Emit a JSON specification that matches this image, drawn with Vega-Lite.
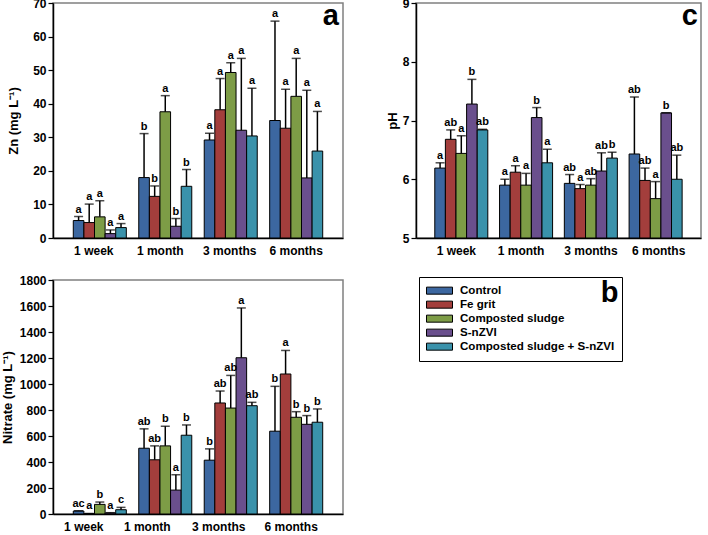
{
  "$schema": "https://vega.github.io/schema/vega-lite/v6.json",
  "padding": {"left": 0, "top": -4, "right": 0, "bottom": 0},
  "bounds": "flush",
  "columns": 2,
  "spacing": {"row": 42, "column": 73},
  "config": {
    "font": "Liberation Sans",
    "view": {"stroke": "#808080", "strokeWidth": 1.5},
    "axis": {"grid": false, "labelFont": "Liberation Sans", "labelFontWeight": "bold", "labelFontSize": 12, "labelColor": "black", "titleFont": "Liberation Sans", "titleFontWeight": "bold", "titleFontSize": 13, "titleColor": "black", "domainColor": "black", "domainWidth": 1.5, "tickColor": "black", "tickWidth": 1.2, "labelOverlap": false},
    "axisY": {"tickSize": 5, "labelPadding": 2, "format": "d"},
    "axisX": {"ticks": false, "labelAngle": 0, "labelPadding": 7, "title": null},
    "title": {"font": "Liberation Sans", "fontSize": 29, "fontWeight": "bold", "color": "black", "anchor": "end", "offset": 0}
  },
  "resolve": {"legend": {"color": "independent"}},
  "datasets": {
    "zn": [
      {"time": "1 week", "trt": "Control", "v": 5.2, "e": 6.4, "l": "a"},
      {"time": "1 week", "trt": "Fe grit", "v": 4.6, "e": 10.1, "l": "a"},
      {"time": "1 week", "trt": "Composted sludge", "v": 6.3, "e": 11.1, "l": "a"},
      {"time": "1 week", "trt": "S-nZVI", "v": 1.3, "e": 2.4, "l": "a"},
      {"time": "1 week", "trt": "Composted sludge + S-nZVI", "v": 3.1, "e": 4.3, "l": "a"},
      {"time": "1 month", "trt": "Control", "v": 18.0, "e": 31.1, "l": "b"},
      {"time": "1 month", "trt": "Fe grit", "v": 12.4, "e": 15.5, "l": "b"},
      {"time": "1 month", "trt": "Composted sludge", "v": 37.6, "e": 42.4, "l": "a"},
      {"time": "1 month", "trt": "S-nZVI", "v": 3.5, "e": 5.8, "l": "b"},
      {"time": "1 month", "trt": "Composted sludge + S-nZVI", "v": 15.4, "e": 20.4, "l": "b"},
      {"time": "3 months", "trt": "Control", "v": 29.2, "e": 31.2, "l": "a"},
      {"time": "3 months", "trt": "Fe grit", "v": 38.2, "e": 47.5, "l": "a"},
      {"time": "3 months", "trt": "Composted sludge", "v": 49.3, "e": 52.2, "l": "a"},
      {"time": "3 months", "trt": "S-nZVI", "v": 32.1, "e": 53.5, "l": "a"},
      {"time": "3 months", "trt": "Composted sludge + S-nZVI", "v": 30.4, "e": 44.6, "l": "a"},
      {"time": "6 months", "trt": "Control", "v": 35.0, "e": 64.6, "l": "a"},
      {"time": "6 months", "trt": "Fe grit", "v": 32.7, "e": 44.3, "l": "a"},
      {"time": "6 months", "trt": "Composted sludge", "v": 42.2, "e": 53.5, "l": "a"},
      {"time": "6 months", "trt": "S-nZVI", "v": 17.9, "e": 44.0, "l": "a"},
      {"time": "6 months", "trt": "Composted sludge + S-nZVI", "v": 25.9, "e": 37.7, "l": "a"}
    ],
    "ph": [
      {"time": "1 week", "trt": "Control", "v": 6.19, "e": 6.28, "l": "a"},
      {"time": "1 week", "trt": "Fe grit", "v": 6.68, "e": 6.84, "l": "ab"},
      {"time": "1 week", "trt": "Composted sludge", "v": 6.44, "e": 6.74, "l": "a"},
      {"time": "1 week", "trt": "S-nZVI", "v": 7.28, "e": 7.70, "l": "b"},
      {"time": "1 week", "trt": "Composted sludge + S-nZVI", "v": 6.84, "e": 6.85, "l": "ab"},
      {"time": "1 month", "trt": "Control", "v": 5.90, "e": 6.00, "l": "a"},
      {"time": "1 month", "trt": "Fe grit", "v": 6.12, "e": 6.23, "l": "a"},
      {"time": "1 month", "trt": "Composted sludge", "v": 5.90, "e": 6.10, "l": "a"},
      {"time": "1 month", "trt": "S-nZVI", "v": 7.05, "e": 7.22, "l": "b"},
      {"time": "1 month", "trt": "Composted sludge + S-nZVI", "v": 6.28, "e": 6.51, "l": "a"},
      {"time": "3 months", "trt": "Control", "v": 5.93, "e": 6.08, "l": "ab"},
      {"time": "3 months", "trt": "Fe grit", "v": 5.84, "e": 5.91, "l": "a"},
      {"time": "3 months", "trt": "Composted sludge", "v": 5.90, "e": 6.01, "l": "ab"},
      {"time": "3 months", "trt": "S-nZVI", "v": 6.14, "e": 6.45, "l": "ab"},
      {"time": "3 months", "trt": "Composted sludge + S-nZVI", "v": 6.36, "e": 6.46, "l": "b"},
      {"time": "6 months", "trt": "Control", "v": 6.43, "e": 7.40, "l": "ab"},
      {"time": "6 months", "trt": "Fe grit", "v": 5.98, "e": 6.19, "l": "ab"},
      {"time": "6 months", "trt": "Composted sludge", "v": 5.67, "e": 5.96, "l": "a"},
      {"time": "6 months", "trt": "S-nZVI", "v": 7.13, "e": 7.13, "l": "b"},
      {"time": "6 months", "trt": "Composted sludge + S-nZVI", "v": 6.00, "e": 6.41, "l": "ab"}
    ],
    "no3": [
      {"time": "1 week", "trt": "Control", "v": 23, "e": 25, "l": "ac"},
      {"time": "1 week", "trt": "Fe grit", "v": 2, "e": 4, "l": "a"},
      {"time": "1 week", "trt": "Composted sludge", "v": 74, "e": 92, "l": "b"},
      {"time": "1 week", "trt": "S-nZVI", "v": 8, "e": 10, "l": "a"},
      {"time": "1 week", "trt": "Composted sludge + S-nZVI", "v": 33, "e": 51, "l": "c"},
      {"time": "1 month", "trt": "Control", "v": 506, "e": 655, "l": "ab"},
      {"time": "1 month", "trt": "Fe grit", "v": 417, "e": 524, "l": "ab"},
      {"time": "1 month", "trt": "Composted sludge", "v": 524, "e": 675, "l": "b"},
      {"time": "1 month", "trt": "S-nZVI", "v": 184, "e": 302, "l": "a"},
      {"time": "1 month", "trt": "Composted sludge + S-nZVI", "v": 606, "e": 685, "l": "b"},
      {"time": "3 months", "trt": "Control", "v": 414, "e": 501, "l": "b"},
      {"time": "3 months", "trt": "Fe grit", "v": 854, "e": 946, "l": "ab"},
      {"time": "3 months", "trt": "Composted sludge", "v": 815, "e": 1066, "l": "ab"},
      {"time": "3 months", "trt": "S-nZVI", "v": 1202, "e": 1585, "l": "a"},
      {"time": "3 months", "trt": "Composted sludge + S-nZVI", "v": 833, "e": 859, "l": "ab"},
      {"time": "6 months", "trt": "Control", "v": 637, "e": 982, "l": "b"},
      {"time": "6 months", "trt": "Fe grit", "v": 1077, "e": 1258, "l": "a"},
      {"time": "6 months", "trt": "Composted sludge", "v": 744, "e": 787, "l": "b"},
      {"time": "6 months", "trt": "S-nZVI", "v": 690, "e": 757, "l": "b"},
      {"time": "6 months", "trt": "Composted sludge + S-nZVI", "v": 706, "e": 808, "l": "b"}
    ]
  },
  "concat": [
    {
      "width": 290, "height": 235,
      "data": {"name": "zn"},
      "title": {"text": "a", "dy": 38, "dx": -4},
      "encoding": {
        "x": {"field": "time", "type": "nominal", "sort": ["1 week", "1 month", "3 months", "6 months"], "scale": {"paddingInner": 0.19, "paddingOuter": 0.31},
          "axis": {"labelOffset": {"condition": [{"test": "datum.value === '1 week'", "value": -6}, {"test": "datum.value === '1 month'", "value": -5}, {"test": "datum.value === '3 months'", "value": -1}], "value": 0}}},
        "xOffset": {"field": "trt", "type": "nominal", "sort": ["Control", "Fe grit", "Composted sludge", "S-nZVI", "Composted sludge + S-nZVI"], "scale": {"paddingInner": 0, "paddingOuter": 0}}
      },
      "layer": [
        {"mark": {"type": "bar", "stroke": "black", "strokeWidth": 1},
         "encoding": {
           "y": {"field": "v", "type": "quantitative", "scale": {"domain": [0, 70], "nice": false}, "axis": {"title": "Zn (mg L⁻¹)", "values": [0, 10, 20, 30, 40, 50, 60, 70], "labelOverlap": false, "titlePadding": 12}},
           "color": {"field": "trt", "type": "nominal", "sort": ["Control", "Fe grit", "Composted sludge", "S-nZVI", "Composted sludge + S-nZVI"], "scale": {"range": ["#3C67A0", "#A33E3C", "#7D9C46", "#6A4F8D", "#3A92AB"]}, "legend": null}
         }},
        {"mark": {"type": "rule", "strokeWidth": 1.5, "color": "black"},
         "encoding": {"y": {"field": "v", "type": "quantitative", "axis": {"title": "Zn (mg L⁻¹)", "values": [0, 10, 20, 30, 40, 50, 60, 70], "labelOverlap": false, "titlePadding": 12}}, "y2": {"field": "e"}}},
        {"mark": {"type": "tick", "thickness": 1.5, "size": 9, "color": "black"},
         "encoding": {"y": {"field": "e", "type": "quantitative", "axis": {"title": "Zn (mg L⁻¹)", "values": [0, 10, 20, 30, 40, 50, 60, 70], "labelOverlap": false, "titlePadding": 12}}}},
        {"mark": {"type": "text", "fontWeight": "bold", "fontSize": 11, "baseline": "bottom", "dy": -2, "color": "black"},
         "encoding": {"y": {"field": "e", "type": "quantitative", "axis": {"title": "Zn (mg L⁻¹)", "values": [0, 10, 20, 30, 40, 50, 60, 70], "labelOverlap": false, "titlePadding": 12}}, "text": {"field": "l"}}}
      ]
    },
    {
      "width": 285, "height": 235,
      "data": {"name": "ph"},
      "title": {"text": "c", "dy": 38, "dx": -3},
      "encoding": {
        "x": {"field": "time", "type": "nominal", "sort": ["1 week", "1 month", "3 months", "6 months"], "scale": {"paddingInner": 0.18, "paddingOuter": 0.29},
          "axis": {"labelOffset": {"condition": [{"test": "datum.value === '1 week'", "value": -5}, {"test": "datum.value === '1 month'", "value": -5}, {"test": "datum.value === '3 months'", "value": 0}], "value": 3}}},
        "xOffset": {"field": "trt", "type": "nominal", "sort": ["Control", "Fe grit", "Composted sludge", "S-nZVI", "Composted sludge + S-nZVI"], "scale": {"paddingInner": 0, "paddingOuter": 0}}
      },
      "layer": [
        {"mark": {"type": "bar", "stroke": "black", "strokeWidth": 1},
         "encoding": {
           "y": {"field": "v", "type": "quantitative", "scale": {"domain": [5, 9], "nice": false, "zero": false}, "axis": {"title": "pH", "values": [5, 6, 7, 8, 9], "labelOverlap": false, "titlePadding": 3}},
           "y2": {"datum": 5},
           "color": {"field": "trt", "type": "nominal", "sort": ["Control", "Fe grit", "Composted sludge", "S-nZVI", "Composted sludge + S-nZVI"], "scale": {"range": ["#3C67A0", "#A33E3C", "#7D9C46", "#6A4F8D", "#3A92AB"]}, "legend": null}
         }},
        {"mark": {"type": "rule", "strokeWidth": 1.5, "color": "black"},
         "encoding": {"y": {"field": "v", "type": "quantitative", "axis": {"title": "pH", "values": [5, 6, 7, 8, 9], "labelOverlap": false, "titlePadding": 3}}, "y2": {"field": "e"}}},
        {"mark": {"type": "tick", "thickness": 1.5, "size": 9, "color": "black"},
         "encoding": {"y": {"field": "e", "type": "quantitative", "axis": {"title": "pH", "values": [5, 6, 7, 8, 9], "labelOverlap": false, "titlePadding": 3}}}},
        {"mark": {"type": "text", "fontWeight": "bold", "fontSize": 11, "baseline": "bottom", "dy": -2, "color": "black"},
         "encoding": {"y": {"field": "e", "type": "quantitative", "axis": {"title": "pH", "values": [5, 6, 7, 8, 9], "labelOverlap": false, "titlePadding": 3}}, "text": {"field": "l"}}}
      ]
    },
    {
      "width": 290, "height": 234,
      "data": {"name": "no3"},
      "title": {"text": "b", "dy": 38, "dx": -4},
      "encoding": {
        "x": {"field": "time", "type": "nominal", "sort": ["1 week", "1 month", "3 months", "6 months"], "scale": {"paddingInner": 0.19, "paddingOuter": 0.31},
          "axis": {"labelOffset": {"condition": [{"test": "datum.value === '1 week'", "value": -16}, {"test": "datum.value === '1 month'", "value": -18}, {"test": "datum.value === '3 months'", "value": -12}], "value": -5}}},
        "xOffset": {"field": "trt", "type": "nominal", "sort": ["Control", "Fe grit", "Composted sludge", "S-nZVI", "Composted sludge + S-nZVI"], "scale": {"paddingInner": 0, "paddingOuter": 0}}
      },
      "layer": [
        {"mark": {"type": "bar", "stroke": "black", "strokeWidth": 1},
         "encoding": {
           "y": {"field": "v", "type": "quantitative", "scale": {"domain": [0, 1800], "nice": false}, "axis": {"title": "Nitrate (mg L⁻¹)", "values": [0, 200, 400, 600, 800, 1000, 1200, 1400, 1600, 1800], "labelOverlap": false, "titlePadding": 5}},
           "color": {"field": "trt", "type": "nominal", "sort": ["Control", "Fe grit", "Composted sludge", "S-nZVI", "Composted sludge + S-nZVI"], "scale": {"range": ["#3C67A0", "#A33E3C", "#7D9C46", "#6A4F8D", "#3A92AB"]},
             "legend": {"orient": "none", "legendX": 366, "legendY": -3, "title": null, "symbolType": "M-1,-0.27H1V0.27H-1Z", "symbolSize": 676, "symbolStrokeColor": "black", "symbolStrokeWidth": 1, "symbolOpacity": 1, "labelFont": "Liberation Sans", "labelFontSize": 11.6, "labelFontWeight": "bold", "labelColor": "black", "labelOffset": 7, "strokeColor": "black", "padding": 7, "clipHeight": 13.3, "rowPadding": 0}}
         }},
        {"mark": {"type": "rule", "strokeWidth": 1.5, "color": "black"},
         "encoding": {"y": {"field": "v", "type": "quantitative", "axis": {"title": "Nitrate (mg L⁻¹)", "values": [0, 200, 400, 600, 800, 1000, 1200, 1400, 1600, 1800], "labelOverlap": false, "titlePadding": 5}}, "y2": {"field": "e"}}},
        {"mark": {"type": "tick", "thickness": 1.5, "size": 9, "color": "black"},
         "encoding": {"y": {"field": "e", "type": "quantitative", "axis": {"title": "Nitrate (mg L⁻¹)", "values": [0, 200, 400, 600, 800, 1000, 1200, 1400, 1600, 1800], "labelOverlap": false, "titlePadding": 5}}}},
        {"mark": {"type": "text", "fontWeight": "bold", "fontSize": 11, "baseline": "bottom", "dy": -2, "color": "black"},
         "encoding": {"y": {"field": "e", "type": "quantitative", "axis": {"title": "Nitrate (mg L⁻¹)", "values": [0, 200, 400, 600, 800, 1000, 1200, 1400, 1600, 1800], "labelOverlap": false, "titlePadding": 5}}, "text": {"field": "l"}}}
      ]
    }
  ]
}
